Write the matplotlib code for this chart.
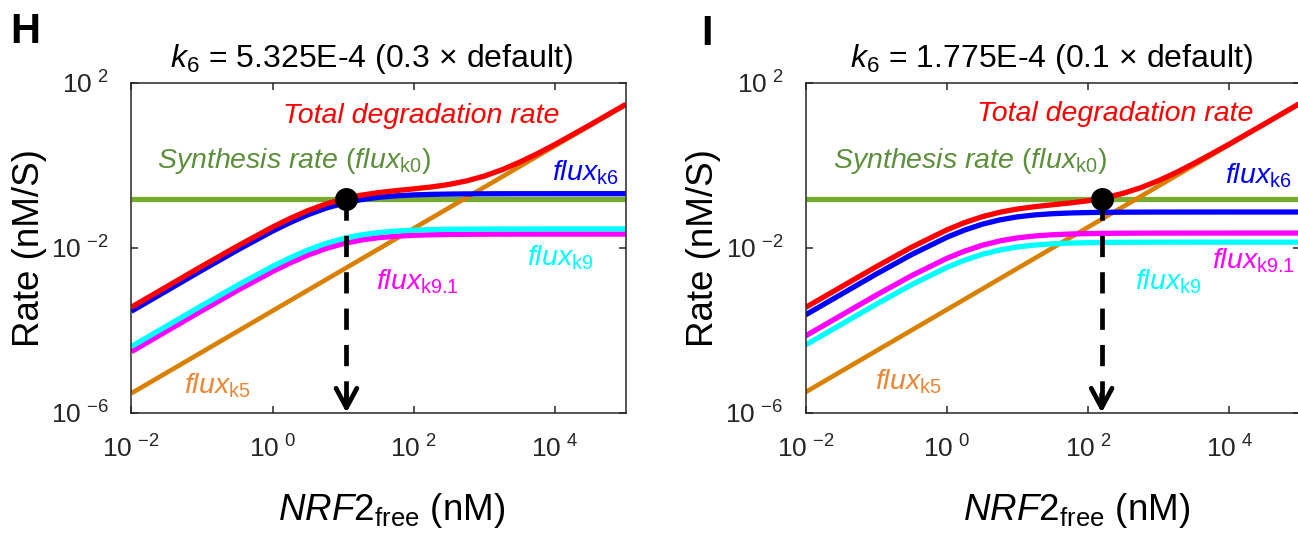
import numpy as np
import matplotlib
matplotlib.use("Agg")
import matplotlib.pyplot as plt

# ── Fuentes ──────────────────────────────────────────────────────────────────
plt.rcParams['font.family'] = 'Liberation Sans'
plt.rcParams['mathtext.fontset'] = 'custom'
plt.rcParams['mathtext.rm'] = 'Liberation Sans'
plt.rcParams['mathtext.it'] = 'Liberation Sans:italic'
plt.rcParams['mathtext.bf'] = 'Liberation Sans:bold'

# ── Datos ────────────────────────────────────────────────────────────────────
# NRF2 libre (nM)
nrf2 = [1e-2, 1e-1, 3.16e-1, 1, 1.78, 3.16, 5.62, 10, 17.8, 31.6, 56.2, 100,
        178, 316, 562, 1e3, 1.78e3, 3.16e3, 5.62e3, 1e4, 3.16e4, 1e5]
x_ends = [1e-2, 1e5]

# Panel H  (k6 = 0.3 x default)
tot_H = [3.61e-4, 3.57e-3, 0.0109, 0.0317, 0.0515, 0.0793, 0.114, 0.152, 0.187,
         0.217, 0.242, 0.267, 0.297, 0.342, 0.417, 0.547, 0.778, 1.19, 1.91,
         3.20, 9.58, 29.8]
k6_H = [2.88e-4, 2.84e-3, 8.72e-3, 0.0253, 0.0409, 0.0630, 0.0903, 0.1194,
        0.1459, 0.1667, 0.1812, 0.1905, 0.1962, 0.1995, 0.2015, 0.2026, 0.2032,
        0.2035, 0.2037, 0.2039, 0.2040, 0.2040]
k9_H = [4.02e-5, 3.97e-4, 1.22e-3, 3.53e-3, 5.72e-3, 8.80e-3, 0.01262, 0.01669,
        0.02038, 0.02329, 0.02531, 0.02662, 0.02741, 0.02788, 0.02815, 0.02830,
        0.02839, 0.02844, 0.02846, 0.02848, 0.02849, 0.02850]
k91_H = [3.02e-5, 2.98e-4, 9.15e-4, 2.65e-3, 4.29e-3, 6.61e-3, 9.47e-3, 0.01253,
         0.01531, 0.01749, 0.01901, 0.01999, 0.02058, 0.02093, 0.02113, 0.02125,
         0.02131, 0.02135, 0.02137, 0.02138, 0.02140, 0.02140]
k5_H = [2.95e-6, 29.5]
k0_H = [0.155, 0.155]
dot_H = (11.1, 0.155)

# Panel I  (k6 = 0.1 x default)
tot_I = [3.57e-4, 3.47e-3, 0.0103, 0.0271, 0.0406, 0.0564, 0.0725, 0.0869,
         0.0990, 0.110, 0.122, 0.138, 0.164, 0.209, 0.287, 0.425, 0.671, 1.11,
         1.89, 3.27, 10.11, 31.7]
k6_I = [2.36e-4, 2.30e-3, 6.80e-3, 0.01792, 0.02677, 0.03708, 0.04731, 0.05599,
        0.06244, 0.06678, 0.06948, 0.07110, 0.07205, 0.07259, 0.07290, 0.07307,
        0.07317, 0.07323, 0.07326, 0.07328, 0.07329, 0.07330]
k9_I = [4.40e-5, 4.28e-4, 1.27e-3, 3.34e-3, 4.99e-3, 6.90e-3, 8.81e-3, 0.01043,
        0.01163, 0.01244, 0.01294, 0.01324, 0.01342, 0.01352, 0.01358, 0.01361,
        0.01363, 0.01364, 0.01364, 0.01365, 0.01365, 0.01365]
k91_I = [7.31e-5, 7.10e-4, 2.10e-3, 5.54e-3, 8.27e-3, 0.01146, 0.01462, 0.01730,
         0.01930, 0.02063, 0.02147, 0.02197, 0.02226, 0.02243, 0.02253, 0.02258,
         0.02261, 0.02263, 0.02264, 0.02264, 0.02265, 0.02265]
k5_I = [3.16e-6, 31.6]
k0_I = [0.155, 0.155]
dot_I = (155, 0.155)

titulos = [r'$\mathit{k}_{6}$ = 5.325E-4 (0.3 × default)',
           r'$\mathit{k}_{6}$ = 1.775E-4 (0.1 × default)']
letras = ['H', 'I']

xt = [1e-2, 1, 1e2, 1e4]
xt_lab = [r'$\mathregular{10\;^{-2}}$', r'$\mathregular{10\;^{0}}$',
          r'$\mathregular{10\;^{2}}$', r'$\mathregular{10\;^{4}}$']
yt = [1e-6, 1e-2, 1e2]
yt_lab = [r'$\mathregular{10\;^{-6}}$', r'$\mathregular{10\;^{-2}}$',
          r'$\mathregular{10\;^{2}}$']

# ── Colores ──────────────────────────────────────────────────────────────────
c_tot, c_k6, c_k9, c_k91 = '#ff0000', '#0000ff', '#00ffff', '#ff00ff'
c_k5, c_k5_txt = '#d98000', '#ee8533'
c_k0, c_k0_txt = '#77ac30', '#5b8f3a'
gris = '#262626'

# posiciones de etiquetas (fraccion de ejes): H, I
pos_tot = [(0.306, 0.877), (0.346, 0.884)]
pos_syn = [(0.051, 0.741), (0.056, 0.741)]
pos_k6 = [(0.851, 0.705), (0.848, 0.695)]
pos_k9 = [(0.800, 0.445), (0.666, 0.374)]
pos_k91 = [(0.494, 0.374), (0.822, 0.438)]
pos_k5 = [(0.107, 0.059), (0.140, 0.069)]
pos_tit = [0.486, 0.497]
pos_xl = [0.527, 0.547]

fig = plt.figure(figsize=(12.98, 5.38), dpi=100)
ax_H = fig.add_axes([0.1012, 0.2329, 0.3809, 0.6134])
ax_I = fig.add_axes([0.6207, 0.2329, 0.3809, 0.6134])

paneles = [(ax_H, tot_H, k6_H, k9_H, k91_H, k5_H, k0_H, dot_H),
           (ax_I, tot_I, k6_I, k9_I, k91_I, k5_I, k0_I, dot_I)]

lw = 3.8
fs_lab = 20.5
for i, (ax, tot, k6, k9, k91, k5, k0, dot) in enumerate(paneles):
    ax.set_xscale('log'); ax.set_yscale('log')
    ax.set_xlim(1e-2, 1e5); ax.set_ylim(1e-6, 1e2)

    ax.plot(x_ends, k0, color=c_k0, lw=lw, solid_capstyle='butt')
    ax.plot(x_ends, k5, color=c_k5, lw=3.3, solid_capstyle='butt')
    ax.plot(nrf2, k91, color=c_k91, lw=lw, solid_capstyle='butt')
    ax.plot(nrf2, k9, color=c_k9, lw=lw, solid_capstyle='butt')
    ax.plot(nrf2, k6, color=c_k6, lw=lw, solid_capstyle='butt')
    ax.plot(nrf2, tot, color=c_tot, lw=lw, solid_capstyle='butt')

    # flecha punteada desde el punto de equilibrio
    ymin = ax.get_ylim()[0]
    ax.plot([dot[0], dot[0]], [dot[1], ymin], color='k', lw=3.4,
            dashes=(4.5, 3.2), zorder=5)
    ax.annotate('', xy=(dot[0], ymin), xytext=(dot[0], ymin * 10**0.45),
                arrowprops=dict(arrowstyle='->,head_length=1.4,head_width=0.75',
                                lw=3.4, color='k', shrinkA=0, shrinkB=0),
                zorder=6)
    ax.plot(dot[0], dot[1], 'o', color='k', ms=15.5, zorder=7)

    # etiquetas
    ax.text(*pos_tot[i], 'Total degradation rate', color=c_tot, style='italic',
            fontsize=fs_lab, transform=ax.transAxes)
    ax.text(*pos_syn[i], r'$\mathit{Synthesis\ rate\ (flux}_{\mathrm{k0}}\mathit{)}$',
            color=c_k0_txt, fontsize=fs_lab, transform=ax.transAxes)
    ax.text(*pos_k6[i], r'$\mathit{flux}_{\mathrm{k6}}$', color=c_k6,
            fontsize=fs_lab, transform=ax.transAxes)
    ax.text(*pos_k9[i], r'$\mathit{flux}_{\mathrm{k9}}$', color=c_k9,
            fontsize=fs_lab, transform=ax.transAxes)
    ax.text(*pos_k91[i], r'$\mathit{flux}_{\mathrm{k9.1}}$', color=c_k91,
            fontsize=fs_lab, transform=ax.transAxes)
    ax.text(*pos_k5[i], r'$\mathit{flux}_{\mathrm{k5}}$', color=c_k5_txt,
            fontsize=fs_lab, transform=ax.transAxes)

    ax.text(pos_tit[i], 1.047, titulos[i], fontsize=23, ha='center',
            va='baseline', transform=ax.transAxes)

    # ejes
    ax.set_xticks(xt, xt_lab)
    ax.set_yticks(yt, yt_lab)
    ax.minorticks_off()
    ax.tick_params(direction='in', top=True, right=True, length=5, width=1.1,
                   color=gris, labelcolor=gris, labelsize=19)
    ax.tick_params(axis='x', pad=16)
    ax.tick_params(axis='y', pad=16)
    for s in ax.spines.values():
        s.set_color(gris); s.set_linewidth(1.1)

    ax.set_ylabel('Rate (nM/S)', fontsize=26.5)
    ax.yaxis.set_label_coords(-0.171, 0.5)
    ax.set_xlabel(r'$\mathit{NRF2}_{\mathrm{free}}$ (nM)', fontsize=26.5)
    ax.xaxis.set_label_coords(pos_xl[i], -0.237)

fig.text(0.008, 1 - 43 / 538, letras[0], fontsize=30, weight='bold')
fig.text(0.540, 1 - 45 / 538, letras[1], fontsize=30, weight='bold')

fig.savefig('out.png', dpi=100)
